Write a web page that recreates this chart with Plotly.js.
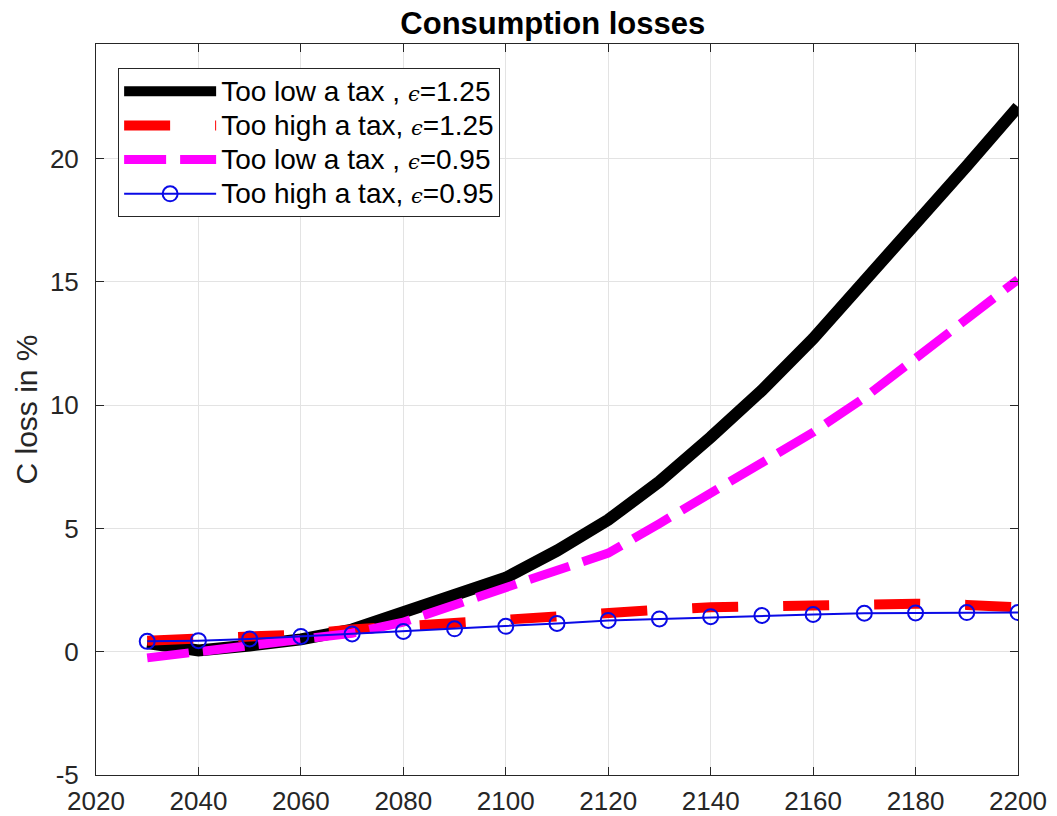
<!DOCTYPE html>
<html>
<head>
<meta charset="utf-8">
<script src="https://cdn.plot.ly/plotly-3.0.1.min.js"></script>
<style>html,body{margin:0;padding:0;background:#fff;}#chart{width:1057px;height:816px;}</style>
</head>
<body>
<div id="chart"></div>
<script>
const years = [2030,2040,2050,2060,2070,2080,2090,2100,2110,2120,2130,2140,2150,2160,2170,2180,2190,2200];
const lowTax125  = [0.35,0.05,0.25,0.5,0.9,1.55,2.3,3.0,4.1,5.35,6.9,8.7,10.6,12.7,15.0,17.3,19.7,22.1];
const highTax125 = [0.45,0.5,0.6,0.7,0.9,1.05,1.2,1.35,1.5,1.6,1.7,1.8,1.85,1.9,1.95,1.95,1.9,1.8];
const lowTax095  = [-0.25,0.0,0.25,0.5,0.75,1.2,1.9,2.6,3.3,4.0,5.2,6.4,7.6,8.9,10.3,11.9,13.4,15.1];
const highTax095 = [0.42,0.45,0.52,0.62,0.72,0.82,0.93,1.03,1.15,1.27,1.33,1.42,1.47,1.51,1.56,1.57,1.59,1.59];
const seriesNames = ["Too low a tax , ϵ=1.25","Too high a tax, ϵ=1.25","Too low a tax , ϵ=0.95","Too high a tax, ϵ=0.95"];
const xTicks = [2020,2040,2060,2080,2100,2120,2140,2160,2180,2200];
const yTicks = [-5,0,5,10,15,20];

function legendLabel(s) {
  const eps = s.replace('ϵ', "<span style=\"font-family:'DejaVu Serif';font-style:italic;font-size:21px\">ϵ</span>");
  return '<span style="font-size:28px">' + eps + '</span>';
}

const traces = [
  {x: years, y: lowTax125, name: legendLabel(seriesNames[0]), legendgroup: 'a', mode: 'lines',
   line: {color: '#000000', width: 12}},
  {x: years, y: highTax125, name: legendLabel(seriesNames[1]), legendgroup: 'b', mode: 'lines',
   line: {color: '#ff0000', width: 10, dash: '46px,45px'}},
  {x: years, y: lowTax095, name: legendLabel(seriesNames[2]), legendgroup: 'c', mode: 'lines',
   line: {color: '#ff00ff', width: 9, dash: '42px,14px'}},
  {x: years, y: highTax095, name: legendLabel(seriesNames[3]), legendgroup: 'd', mode: 'lines+markers',
   line: {color: '#0a0ae6', width: 2},
   marker: {symbol: 'circle-open', size: 15, color: '#0a0ae6', line: {width: 2, color: '#0a0ae6'}}}
];

const FONT = 'Liberation Sans, Arial, sans-serif';
const axisCommon = {
  showline: true, mirror: 'ticks', linecolor: '#262626', linewidth: 1,
  ticks: 'inside', ticklen: 8, tickcolor: '#262626', tickwidth: 1,
  showgrid: true, gridcolor: '#e3e3e3', gridwidth: 1, zeroline: false, automargin: false,
  tickfont: {family: FONT, size: 26, color: '#262626'}
};

const layout = {
  width: 1057, height: 816,
  margin: {l: 96, r: 39, t: 44, b: 41},
  paper_bgcolor: '#ffffff', plot_bgcolor: '#ffffff',
  title: {text: '<b>Consumption losses</b>', x: 0.523, xanchor: 'center', y: 0.972, yanchor: 'middle',
          font: {family: FONT, size: 31, color: '#000000'}},
  xaxis: Object.assign({}, axisCommon, {range: [2020, 2200], tickvals: xTicks, ticktext: xTicks.map(String),
          ticklabelstandoff: 3}),
  yaxis: Object.assign({}, axisCommon, {range: [-5, 24.65], tickvals: yTicks, ticktext: yTicks.map(String),
          ticklabelstandoff: 11,
          title: {text: 'C loss in %', standoff: 3, font: {family: FONT, size: 30, color: '#262626'}}}),
  showlegend: true,
  legend: {x: 0.024, y: 0.967, xanchor: 'left', yanchor: 'top', bgcolor: '#ffffff',
           bordercolor: '#262626', borderwidth: 1, itemwidth: 92, traceorder: 'grouped', tracegroupgap: 0,
           font: {family: FONT, size: 24, color: '#000000'}},
};

Plotly.newPlot('chart', traces, layout, {displayModeBar: false, staticPlot: true});
</script>
</body>
</html>
